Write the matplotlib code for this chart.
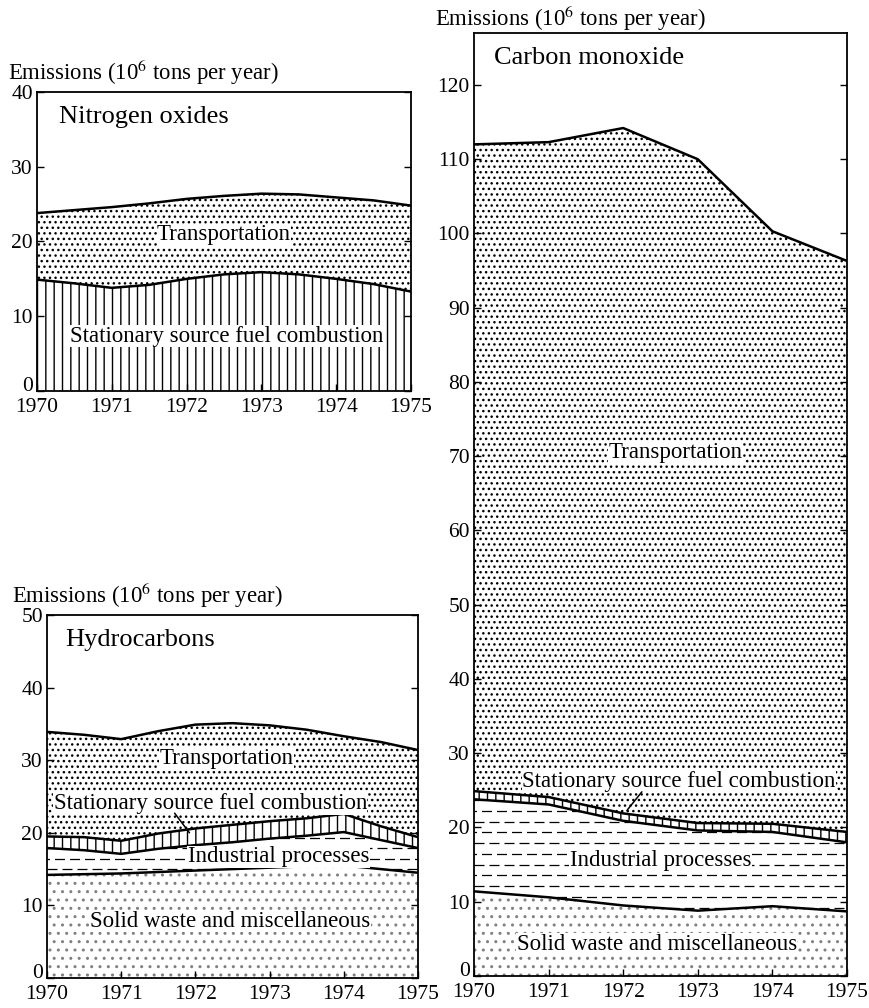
import numpy as np
import matplotlib
matplotlib.use("Agg")
import matplotlib.pyplot as plt

plt.rcParams['font.family'] = ['Liberation Serif', 'DejaVu Serif']
plt.rcParams['mathtext.fontset'] = 'stix'
plt.rcParams['hatch.linewidth'] = 1.0

# ---------------- data (10^6 tons per year) ----------------
nox_years = [1970, 1970.5, 1971, 1971.5, 1972, 1972.5, 1973, 1973.5, 1974, 1974.5, 1975]
nox_stationary = [14.9, 14.4, 13.8, 14.2, 15.0, 15.6, 15.9, 15.6, 15.0, 14.3, 13.3]
nox_transport = [8.9, 9.8, 10.8, 10.9, 10.7, 10.5, 10.5, 10.7, 10.9, 11.2, 11.5]

hc_years = [1970, 1970.5, 1971, 1971.5, 1972, 1972.5, 1973, 1973.5, 1974, 1974.5, 1975]
hc_solid = [14.2, 14.3, 14.4, 14.6, 14.8, 15.0, 15.2, 15.4, 15.5, 15.0, 14.5]
hc_industrial = [3.7, 3.3, 2.7, 3.2, 3.5, 3.7, 4.0, 4.2, 4.6, 4.0, 3.4]
hc_stationary = [1.6, 1.8, 1.8, 2.1, 2.3, 2.4, 2.4, 2.4, 2.5, 1.9, 1.5]
hc_transport = [14.4, 14.1, 14.0, 14.1, 14.3, 14.0, 13.2, 12.2, 10.7, 11.6, 12.0]

co_years = [1970, 1971, 1972, 1973, 1974, 1975]
co_solid = [11.4, 10.6, 9.5, 8.8, 9.4, 8.7]
co_industrial = [12.4, 12.5, 11.4, 10.8, 10.0, 9.3]
co_stationary = [1.1, 1.0, 1.0, 1.0, 1.1, 1.4]
co_transport = [87.1, 88.2, 92.3, 89.4, 79.8, 76.9]

year_ticks = [1970, 1971, 1972, 1973, 1974, 1975]
ylabel_text = r"Emissions (10$^6$ tons per year)"

# ---------------- styles ----------------
STYLES = {
    'solid': dict(hatch='..', color='0.5'),
    'industrial': dict(hatch=None, color='black'),
    'stationary': dict(hatch='||', color='black'),
    'transport': dict(hatch='...', color='black'),
}
LABEL_FS = 16.5
TITLE_FS = 19
TICK_FS = 15.5
YLAB_FS = 16.4
WHITE = dict(facecolor='white', edgecolor='none', pad=0.3)

W, H = 869, 1008
fig = plt.figure(figsize=(W / 100, H / 100), dpi=100)


def add_axes_px(left, top, right, bottom):
    return fig.add_axes([left / W, 1 - bottom / H, (right - left) / W, (bottom - top) / H])


def draw_stack(ax, years, layers, ymax, yticks):
    x = np.asarray(years, dtype=float)
    base = np.zeros_like(x)
    for kind, vals in layers:
        top = base + np.asarray(vals, dtype=float)
        st = STYLES[kind]
        poly = ax.fill_between(x, base, top, facecolor='white', edgecolor=st['color'],
                               linewidth=0, hatch=st['hatch'], zorder=1)
        if kind == 'industrial':
            path = poly.get_paths()[0]
            for i, yy in enumerate(np.arange(0.5, base.max() + 20, 1.45)):
                ls = (0, (8, 4)) if i % 2 == 0 else (6, (8, 4))
                ln, = ax.plot([1970, 1975], [yy, yy], color='black', lw=0.9, ls=ls,
                              dash_capstyle='butt', zorder=1.5)
                ln.set_clip_path(path, ax.transData)
        ax.plot(x, top, color='black', lw=1.8, zorder=3, solid_joinstyle='round')
        base = top
    ax.set_xlim(1970, 1975)
    ax.set_ylim(0, ymax)
    ax.set_xticks(year_ticks)
    ax.set_yticks(yticks)
    ax.tick_params(direction='in', length=5, width=1.0, labelsize=TICK_FS,
                   left=True, right=True, bottom=True, top=False)
    ax.tick_params(axis='x', pad=5)
    ax.tick_params(axis='y', pad=3)
    ax.get_yticklabels()[0].set_verticalalignment('baseline')
    for sp in ax.spines.values():
        sp.set_linewidth(1.3)


# ---- Nitrogen oxides ----
ax1 = add_axes_px(37, 92, 411, 391)
draw_stack(ax1, nox_years, [('stationary', nox_stationary), ('transport', nox_transport)],
           40, [0, 10, 20, 30, 40])
ax1.text(1970.3, 36.6, "Nitrogen oxides", fontsize=TITLE_FS, va='center', ha='left')
ax1.text(1972.5, 20.9, "Transportation", fontsize=LABEL_FS, va='center', ha='center',
         bbox=WHITE, zorder=4)
ax1.text(1972.54, 7.3, "Stationary source fuel combustion", fontsize=LABEL_FS, va='center',
         ha='center', bbox=WHITE, zorder=4)
fig.text(8 / W, 1 - 72 / H, ylabel_text, fontsize=YLAB_FS, va='center', ha='left')

# ---- Hydrocarbons ----
ax2 = add_axes_px(47, 615, 418, 978)
draw_stack(ax2, hc_years, [('solid', hc_solid), ('industrial', hc_industrial),
                           ('stationary', hc_stationary), ('transport', hc_transport)],
           50, [0, 10, 20, 30, 40, 50])
ax2.text(1970.25, 46.6, "Hydrocarbons", fontsize=TITLE_FS, va='center', ha='left')
ax2.text(1972.42, 30.3, "Transportation", fontsize=LABEL_FS, va='center', ha='center',
         bbox=WHITE, zorder=4)
ax2.text(1972.2, 24.0, "Stationary source fuel combustion", fontsize=LABEL_FS,
         va='center', ha='center', bbox=WHITE, zorder=4)
ax2.annotate("", xy=(1971.92, 20.0), xytext=(1971.72, 22.7), zorder=4,
             arrowprops=dict(arrowstyle='-', lw=1.1, color='black', shrinkA=0, shrinkB=0))
ax2.text(1973.12, 16.7, "Industrial processes", fontsize=LABEL_FS, va='center', ha='center',
         bbox=WHITE, zorder=4)
ax2.text(1972.47, 7.8, "Solid waste and miscellaneous", fontsize=LABEL_FS, va='center',
         ha='center', bbox=WHITE, zorder=4)
fig.text(12 / W, 1 - 595 / H, ylabel_text, fontsize=YLAB_FS, va='center', ha='left')

# ---- Carbon monoxide ----
ax3 = add_axes_px(474, 33, 847, 976)
draw_stack(ax3, co_years, [('solid', co_solid), ('industrial', co_industrial),
                           ('stationary', co_stationary), ('transport', co_transport)],
           127, list(range(0, 121, 10)))
ax3.text(1970.27, 123.6, "Carbon monoxide", fontsize=TITLE_FS, va='center', ha='left')
ax3.text(1972.7, 70.5, "Transportation", fontsize=LABEL_FS, va='center', ha='center',
         bbox=WHITE, zorder=4)
ax3.text(1972.75, 26.2, "Stationary source fuel combustion", fontsize=LABEL_FS,
         va='center', ha='center', bbox=WHITE, zorder=4)
ax3.annotate("", xy=(1972.05, 22.3), xytext=(1972.25, 24.8), zorder=4,
             arrowprops=dict(arrowstyle='-', lw=1.1, color='black', shrinkA=0, shrinkB=0))
ax3.text(1972.5, 15.5, "Industrial processes", fontsize=LABEL_FS, va='center', ha='center',
         bbox=WHITE, zorder=4)
ax3.text(1972.45, 4.3, "Solid waste and miscellaneous", fontsize=LABEL_FS, va='center',
         ha='center', bbox=WHITE, zorder=4)
fig.text(435 / W, 1 - 18 / H, ylabel_text, fontsize=YLAB_FS, va='center', ha='left')

fig.savefig("out.png", dpi=100)
